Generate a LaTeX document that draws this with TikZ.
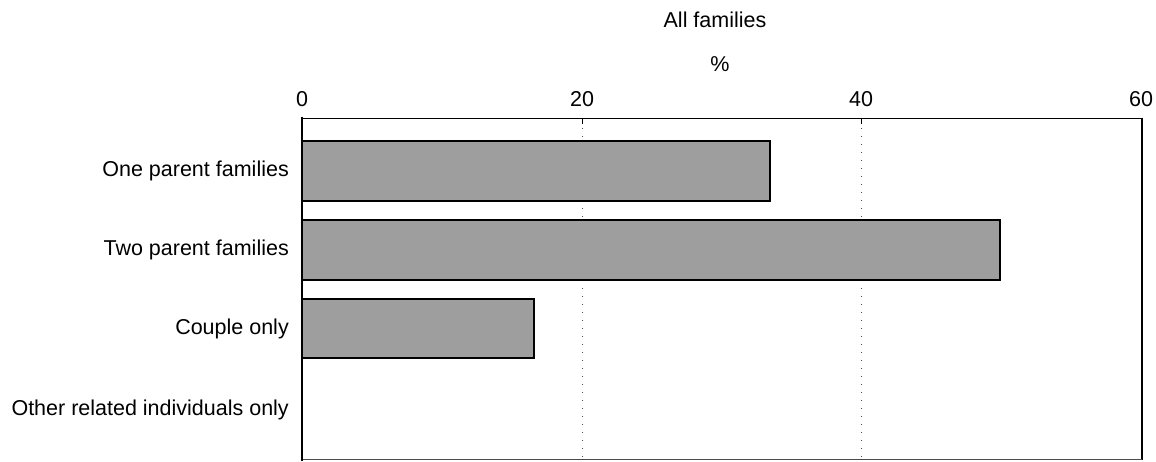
\documentclass[tikz,border=0pt]{standalone}
\usepackage{fontspec}
\setmainfont{Liberation Sans}
\begin{document}
\begin{tikzpicture}[x=1pt,y=-1pt,
  lbl/.style={font=\fontsize{21.5}{24}\selectfont, inner sep=0pt},
  cat/.style={lbl, anchor=east},
  bar/.style={draw=black, line width=1.8pt, fill=black!38},
  grid/.style={draw=black!70, line width=0.9pt, dash pattern=on 1pt off 7pt},
  frame/.style={draw=black, line width=1pt}]
\useasboundingbox (0,0) rectangle (1156,461);
% titles
\node[lbl] (title) at (715,20) {All families};
\node[lbl] (pct) at (720,64) {\%};
% tick labels
\node[lbl] (t0) at (302,99) {0};
\node[lbl] (t20) at (582,99) {20};
\node[lbl] (t40) at (861,99) {40};
\node[lbl] (t60) at (1141,99) {60};
% grid lines
\draw[grid] (582,120) -- (582,460);
\draw[grid] (861,120) -- (861,460);
% frame
\draw[frame] (302,118) -- (1142,118);
\draw[draw=black, line width=2pt] (1142,118) -- (1142,460);
\draw[draw=black!70, line width=1pt] (302,459.5) -- (1142,459.5);
\draw[draw=black, line width=0.8pt] (582,118) -- (582,124);
\draw[draw=black, line width=0.8pt] (861,118) -- (861,124);
% bars
\draw[bar] (302,141) rectangle (770,201);
\draw[bar] (302,220) rectangle (1000,280);
\draw[bar] (302,299) rectangle (534,358);
% left axis
\draw[draw=black, line width=2pt] (302,117) -- (302,461);
% category labels
\node[cat] (c1) at (289,171) {One parent families};
\node[cat] (c2) at (289,250) {Two parent families};
\node[cat] (c3) at (289,329) {Couple only};
\node[cat] (c4) at (289,410) {Other related individuals only};
\end{tikzpicture}
\end{document}
